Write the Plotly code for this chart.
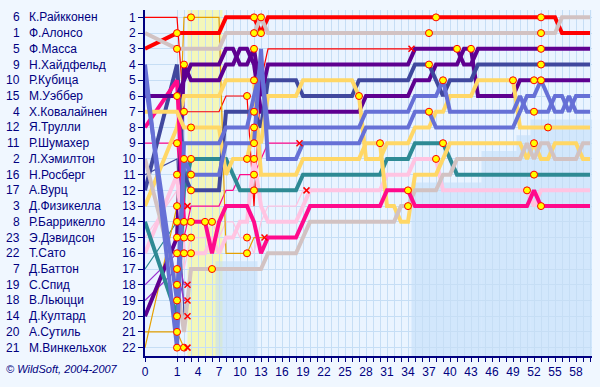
import plotly.graph_objects as go

# ---------------- data ----------------
CAR_NUMBERS = [6, 1, 5, 9, 10, 15, 4, 12, 11, 2, 16, 17, 3, 8, 23, 22, 7, 19, 18, 14, 20, 21]
DRIVER_NAMES = ["К.Райкконен", "Ф.Алонсо", "Ф.Масса", "Н.Хайдфельд", "Р.Кубица", "М.Уэббер",
                "Х.Ковалайнен", "Я.Трулли", "Р.Шумахер", "Л.Хэмилтон", "Н.Росберг", "А.Вурц",
                "Д.Физикелла", "Р.Баррикелло", "Э.Дэвидсон", "Т.Сато", "Д.Баттон", "С.Спид",
                "В.Льюцци", "Д.Култард", "А.Сутиль", "М.Винкельхок"]
GRID_POS = list(range(1, 23))

# positions lap by lap (index = lap, starting at lap 0 = grid)
RAI = [1, 1, 7, 7, 7, 7, 7, 7, 6, 6, 6, 6, 13, 5, 3, 3, 3, 3, 3, 3,
       3, 3, 3, 3, 3, 3, 3, 3, 3, 3, 3, 3, 3, 3, 3]
ALO = [2, 3, 3, 3, 3, 3, 3, 3, 2, 2, 2, 2, 2, 1, 2, 2, 2, 2, 2, 2,
       2, 2, 2, 2, 2, 2, 2, 2, 2, 2, 2, 2, 2, 2, 2, 2, 2, 2, 2, 2,
       2, 2, 2, 2, 2, 2, 2, 2, 2, 2, 2, 2, 2, 2, 2, 2, 1, 1, 1, 1, 1]
MAS = [3, 2, 2, 2, 2, 2, 2, 2, 1, 1, 1, 1, 1, 2, 1, 1, 1, 1, 1, 1,
       1, 1, 1, 1, 1, 1, 1, 1, 1, 1, 1, 1, 1, 1, 1, 1, 1, 1, 1, 1,
       1, 1, 1, 1, 1, 1, 1, 1, 1, 1, 1, 1, 1, 1, 1, 1, 2, 2, 2, 2, 2]
HEI = [4, 22, 9, 9, 9, 9, 9, 9, 8, 8, 8, 8, 6, 4, 8, 8, 8, 8, 8, 8,
       8, 8, 8, 8, 8, 8, 8, 8, 7, 7, 7, 7, 7, 7, 7, 6, 6, 6, 6, 5,
       7, 7, 7, 7, 7, 7, 7, 7, 7, 7, 6, 7, 7, 7, 7, 6, 6, 7, 6, 6, 6]
KUB = [5, 19, 10, 11, 11, 11, 11, 11, 9, 9, 9, 9, 9, 3, 10, 10, 10, 10, 10, 9,
       9, 9, 9, 9, 9, 9, 9, 9, 8, 8, 8, 8, 8, 8, 8, 7, 7, 7, 8, 8,
       8, 8, 8, 8, 8, 8, 8, 8, 8, 8, 7, 6, 6, 5, 6, 7, 7, 6, 7, 7, 7]
WEB = [6, 6, 5, 4, 4, 4, 4, 4, 3, 3, 4, 4, 3, 6, 4, 4, 4, 4, 4, 4,
       4, 4, 4, 4, 4, 4, 4, 4, 4, 4, 4, 4, 4, 4, 4, 3, 3, 3, 3, 3,
       3, 3, 4, 4, 3, 3, 3, 3, 3, 3, 3, 3, 3, 3, 3, 3, 3, 3, 3, 3, 3]
KOV = [7, 7, 8, 8, 8, 8, 8, 8, 11, 10, 10, 10, 8, 9, 6, 6, 6, 6, 6, 5,
       5, 5, 5, 5, 5, 5, 5, 6, 10, 10, 10, 9, 9, 9, 9, 8, 8, 8, 7, 7,
       6, 6, 6, 6, 5, 5, 5, 5, 5, 5, 8, 8, 8, 8, 8, 8, 8, 8, 8, 8, 8]
TRU = [8, 5, 14, 14, 14, 14, 16, 14, 13, 13, 13, 13, 14, 16, 15, 15, 15, 15, 15, 14,
       13, 13, 13, 13, 13, 13, 13, 13, 13, 13, 13, 12, 12, 12, 12, 13, 13, 13, 13, 13,
       13, 13, 13, 13, 13, 13, 13, 13, 13, 13, 13, 13, 12, 13, 13, 13, 13, 13, 13, 13, 13]
RSC = [9, 9, 15, 13, 13, 13, 13, 13, 12, 12, 11, 11, 11, 10, 9, 9, 9, 9, 9]
HAM = [10, 18, 21, 17, 17, 17, 17, 17, 17, 17, 17, 17, 17, 17, 16, 16, 16, 16, 16, 15,
       14, 14, 14, 14, 14, 14, 14, 14, 14, 14, 14, 14, 14, 13, 13, 12, 12, 12, 12, 11,
       11, 10, 10, 10, 10, 10, 10, 10, 10, 10, 10, 9, 10, 9, 9, 10, 10, 10, 10, 9, 9]
ROS = [11, 10, 20]
WUR = [12, 4, 11, 12, 12, 12, 12, 12, 7, 7, 7, 7, 7, 8, 5, 5, 5, 5, 5, 6,
       6, 6, 6, 6, 6, 6, 6, 5, 5, 5, 5, 5, 5, 5, 5, 4, 4, 4, 5, 6,
       5, 5, 5, 5, 4, 4, 4, 4, 4, 4, 4, 4, 4, 4, 4, 4, 4, 4, 4, 4, 4]
FIS = [13, 8, 6, 6, 6, 6, 6, 6, 5, 5, 5, 5, 5, 11, 11, 11, 11, 11, 11, 10,
       10, 10, 10, 10, 10, 10, 10, 10, 9, 9, 9, 13, 13, 14, 14, 11, 11, 11, 11, 10,
       9, 9, 9, 9, 9, 9, 9, 9, 9, 9, 9, 10, 9, 10, 10, 9, 9, 9, 9, 10, 10]
BAR = [14, 20, 12, 10, 10, 10, 10, 10, 10, 11, 12, 12, 12, 12, 12, 12, 12, 12, 12, 11,
       11, 11, 11, 11, 11, 11, 11, 11, 11, 11, 11, 10, 10, 10, 10, 9, 9, 9, 9, 9,
       10, 11, 11, 11, 11, 11, 11, 11, 11, 11, 11, 11, 11, 11, 11, 11, 11, 11, 11, 11, 11]
DAV = [15, 12, 17, 15, 15, 15, 14, 15, 14, 14, 15, 15, 16, 14, 13, 13, 13, 13, 13, 12]
SAT = [16, 11, 16, 16, 16, 16, 15, 16, 15, 15, 14, 14, 10, 13, 14, 14, 14, 14, 14, 13,
       12, 12, 12, 12, 12, 12, 12, 12, 12, 12, 12, 11, 11, 11, 11, 10, 10, 10, 10, 12,
       12, 12, 12, 12, 12, 12, 12, 12, 12, 12, 12, 12, 13, 12, 12, 12, 12, 12, 12, 12, 12]
BUT = [17, 14, 13]
SPE = [18, 16, 18]
LIU = [19, 17, 19]
COU = [20, 15, 4, 5, 5, 5, 5, 5, 4, 4, 3, 3, 4, 7, 7, 7, 7, 7, 7, 7,
       7, 7, 7, 7, 7, 7, 7, 7, 6, 6, 6, 6, 6, 6, 6, 5, 5, 5, 4, 4,
       4, 4, 3, 3, 6, 6, 6, 6, 6, 6, 5, 5, 5, 5, 5, 5, 5, 5, 5, 5, 5]
SUT = [21, 21, 22]
WIN = [22, 13, 1, 1, 1, 1, 1, 1, 16, 16, 16, 16, 15, 15]

# pit-stop laps per driver
RAI_PITS = [2, 11]
ALO_PITS = [1, 12, 13, 37, 53]
MAS_PITS = [1, 12, 13, 38, 53]
HEI_PITS = [1, 39, 52]
KUB_PITS = [1, 2, 3, 12, 37, 53]
WEB_PITS = [1, 12, 41, 53]
KOV_PITS = [3, 11, 12, 27, 49, 54]
TRU_PITS = [2, 3, 5, 34, 53]
RSC_PITS = [1, 2, 12]
HAM_PITS = [1, 6, 34]
ROS_PITS = []
WUR_PITS = [3, 12, 37, 53]
FIS_PITS = [12, 30, 52]
BAR_PITS = [1, 3, 12, 39, 52]
DAV_PITS = [3, 6, 11]
SAT_PITS = [1, 2, 3, 12, 38, 51]
BUT_PITS = [1]
SPE_PITS = [1]
LIU_PITS = [1]
COU_PITS = [1, 2, 43, 52]
SUT_PITS = [1, 2]
WIN_PITS = [1, 3, 11]

TOTAL_LAPS = 60
LAP_LABELS = [0, 1, 4, 7, 10, 13, 16, 19, 22, 25, 28, 31, 34, 37, 40, 43, 46, 49, 52, 55, 58]

# safety-car period and lapped-car zones
SC_START, SC_END = 2.5, 7.5
LAPPED_FROM = [6.5, 34.5, 44.5, 49.5, 51.5]
LAPPED_TO = [12.5, 44.5, 49.5, 51.5, 60.3]
LAPPED_TOP = [16.5, 11.5, 9.5, 8.5, 7.5]

# ---------------- styles ----------------
RED = "#FF0000"
MCL = "#D2C2C2"
BMW = "#6670D6"
RBR = "#5E0090"
WIL = "#40489E"
REN = "#FFD766"
HON = "#2E8A94"
TOY = "#FF0A8C"
SAG = "#FFC4E2"
STR = "#9A30D0"
SPY = "#E6A000"
NAVY = "#000080"
FONT = "Liberation Sans, Arial"

drivers = [
    (RAI, RAI_PITS, RED, False), (ALO, ALO_PITS, MCL, True), (MAS, MAS_PITS, RED, True),
    (HEI, HEI_PITS, BMW, True), (KUB, KUB_PITS, BMW, True), (WEB, WEB_PITS, RBR, True),
    (KOV, KOV_PITS, REN, True), (TRU, TRU_PITS, TOY, True), (RSC, RSC_PITS, TOY, False),
    (HAM, HAM_PITS, MCL, True), (ROS, ROS_PITS, WIL, False), (WUR, WUR_PITS, WIL, True),
    (FIS, FIS_PITS, REN, True), (BAR, BAR_PITS, HON, True), (DAV, DAV_PITS, SAG, False),
    (SAT, SAT_PITS, SAG, True), (BUT, BUT_PITS, HON, False), (SPE, SPE_PITS, STR, False),
    (LIU, LIU_PITS, STR, False), (COU, COU_PITS, RBR, True), (SUT, SUT_PITS, SPY, False),
    (WIN, WIN_PITS, SPY, False),
]


def xpos(lap):
    # first lap drawn wider (32 px) than the others (7 px)
    return lap * 32.0 / 7.0 if lap <= 1 else 32.0 / 7.0 + (lap - 1)


L, R, T, B = 145, 8, 10, 25
W, H = 600, 387
PW, PH = W - L - R, H - T - B
XMAX = PW / 7.0
Y_TOP = 1 - 7.5 / 16
Y_BOT = 22 + 8.5 / 16


def paper_x(px):
    return (px - L) / PW


def paper_y(py):
    return (H - B - py) / PH


fig = go.Figure()

# lines: thin first, then thick ones (leaders drawn last)
order = [d for d in drivers if not d[3]] + [d for d in reversed(drivers) if d[3]]
pit_x, pit_y, ret_x, ret_y = [], [], [], []
for pos, pits, color, thick in order:
    xs = [xpos(i) for i in range(len(pos))]
    ys = list(pos)
    if len(pos) - 1 < TOTAL_LAPS:
        xs.append(xpos(len(pos) - 1 + 0.5))
        ys.append(pos[-1])
        ret_x.append(xs[-1])
        ret_y.append(ys[-1])
    fig.add_trace(go.Scatter(x=xs, y=ys, mode="lines",
                             line=dict(color=color, width=4 if thick else 1.2),
                             hoverinfo="skip", showlegend=False))
    for p in pits:
        pit_x.append(xpos(p))
        pit_y.append(pos[p])

fig.add_trace(go.Scatter(x=pit_x, y=pit_y, mode="markers",
                         marker=dict(symbol="circle", size=7, color="#FFFF00",
                                     line=dict(color="#FF0000", width=1)),
                         hoverinfo="skip", showlegend=False))
fig.add_trace(go.Scatter(x=ret_x, y=ret_y, mode="markers",
                         marker=dict(symbol="x-thin", size=6,
                                     line=dict(color="#FF0000", width=1.5)),
                         hoverinfo="skip", showlegend=False))

shapes = [dict(type="rect", xref="x", yref="paper", x0=xpos(SC_START), x1=xpos(SC_END),
               y0=0, y1=1, fillcolor="rgba(250,250,130,0.55)", line=dict(width=0),
               layer="below")]
for a, b, top in zip(LAPPED_FROM, LAPPED_TO, LAPPED_TOP):
    shapes.append(dict(type="rect", xref="x", yref="y", x0=xpos(a), x1=min(xpos(b), XMAX),
                       y0=top, y1=Y_BOT, fillcolor="rgba(190,220,250,0.55)",
                       line=dict(width=0), layer="below"))

annotations = []
for num, name, gp in zip(CAR_NUMBERS, DRIVER_NAMES, GRID_POS):
    annotations.append(dict(x=paper_x(22), y=gp, xref="paper", yref="y", text=str(num),
                            showarrow=False, xanchor="right", yanchor="middle",
                            font=dict(family=FONT, size=12, color=NAVY)))
    annotations.append(dict(x=paper_x(27), y=gp, xref="paper", yref="y", text=name,
                            showarrow=False, xanchor="left", yanchor="middle",
                            font=dict(family=FONT, size=12, color=NAVY)))
annotations.append(dict(x=paper_x(4), y=paper_y(375), xref="paper", yref="paper",
                        text="<i>© WildSoft, 2004-2007</i>", showarrow=False,
                        xanchor="left", yanchor="middle",
                        font=dict(family=FONT, size=11, color=NAVY)))

tickvals = [xpos(l) for l in range(0, TOTAL_LAPS + 1)]
ticktext = [str(l) if l in LAP_LABELS else "" for l in range(0, TOTAL_LAPS + 1)]

fig.update_layout(
    width=W, height=H,
    margin=dict(l=L, r=R, t=T, b=B, pad=0),
    paper_bgcolor="#F0F7FF",
    plot_bgcolor="#EAF4FF",
    shapes=shapes,
    annotations=annotations,
    hovermode=False,
    xaxis=dict(range=[0, XMAX], tickvals=tickvals, ticktext=ticktext,
               showgrid=True, gridcolor="#C6DEF5", gridwidth=1,
               ticks="outside", ticklen=4, tickcolor=NAVY,
               showline=True, linecolor=NAVY, linewidth=2, zeroline=False,
               tickfont=dict(family=FONT, size=12, color=NAVY)),
    yaxis=dict(range=[Y_BOT, Y_TOP], tickvals=GRID_POS,
               showgrid=True, gridcolor="#C6DEF5", gridwidth=1,
               ticks="outside", ticklen=5, tickcolor=NAVY,
               showline=True, linecolor=NAVY, linewidth=2, zeroline=False,
               tickfont=dict(family=FONT, size=12, color=NAVY)),
)

fig.write_html("out.html", config={"displayModeBar": False, "staticPlot": True},
               post_script="document.body.style.margin='0px';document.body.style.background='#F0F7FF';")
